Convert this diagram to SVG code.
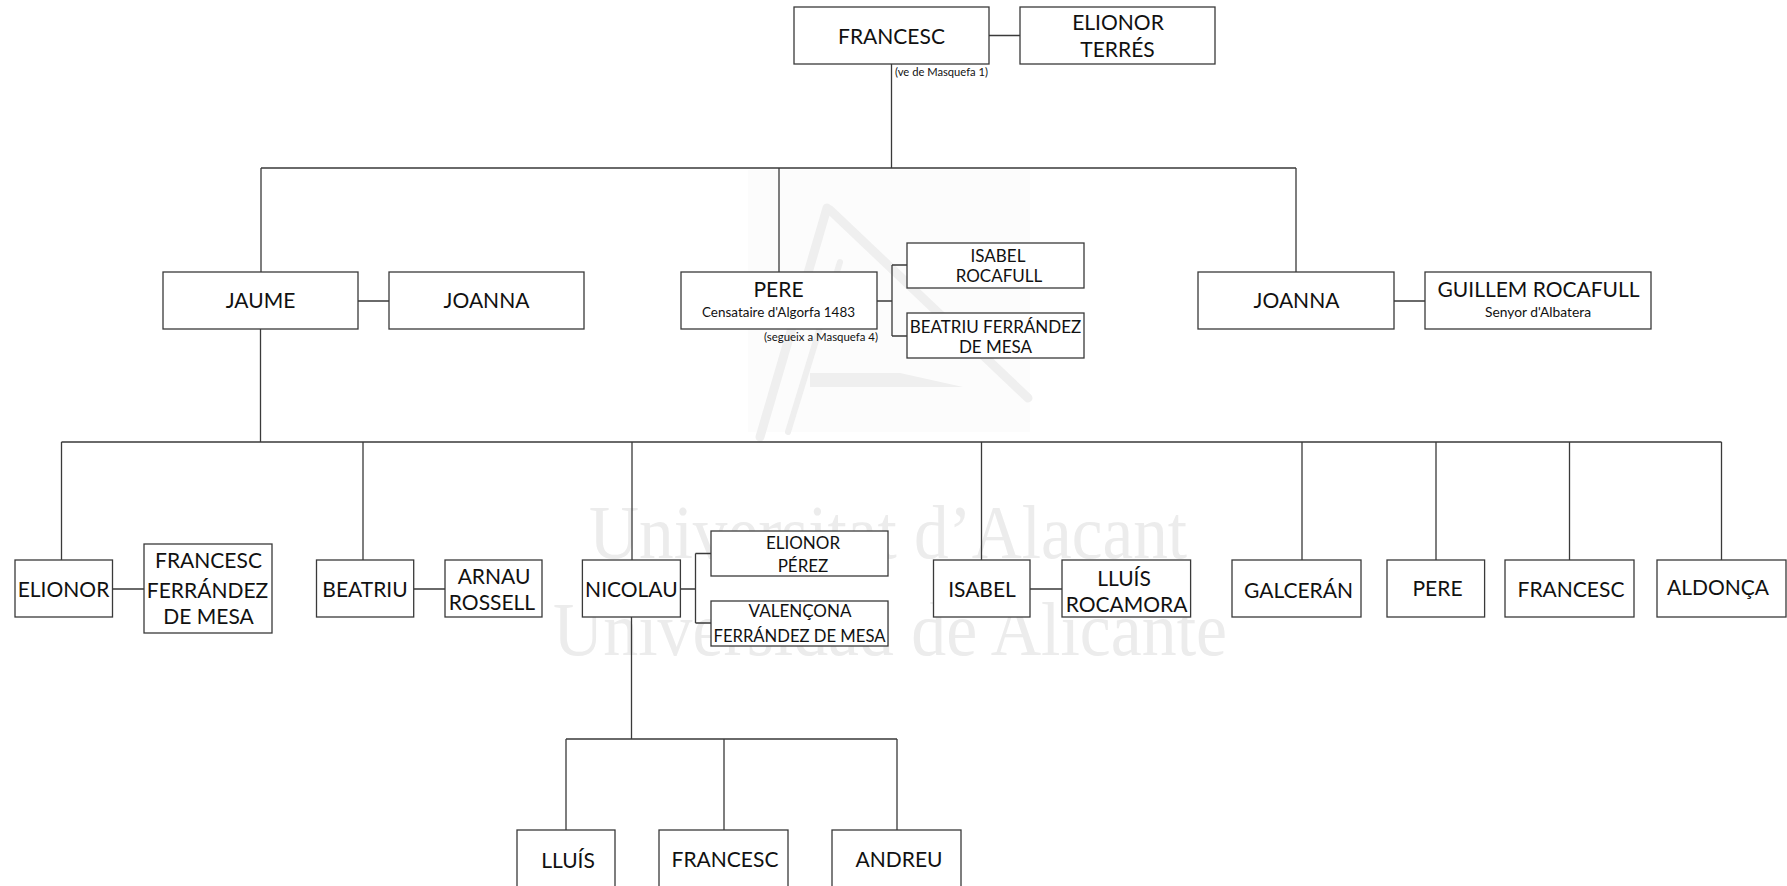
<svg xmlns="http://www.w3.org/2000/svg" width="1787" height="886" viewBox="0 0 1787 886">
<style>
.bx{fill:#fff;stroke:#3a3a3a;stroke-width:1.3}
.ln{fill:none;stroke:#3a3a3a;stroke-width:1.3}
text{font-family:Lato,"Open Sans","Liberation Sans",sans-serif;fill:#111;text-anchor:middle}
.t{font-size:21px}
.m{font-size:17px}
.s{font-size:12.5px}
.xs{font-size:10.5px;text-anchor:start}
.wm{font-family:"Liberation Serif","DejaVu Serif",serif;font-size:76px;fill:#ececec;text-anchor:start}
.lg{fill:none;stroke:#efefef;stroke-linecap:round}
</style>
<rect width="1787" height="886" fill="#fff"/>
<g id="watermark">
<rect x="748" y="170" width="282" height="262" fill="#fcfcfc"/>
<path class="lg" stroke-width="9" d="M827,208 L760,437"/>
<path class="lg" stroke-width="6" d="M840,262 L788,432"/>
<path class="lg" stroke-width="9" d="M830,210 L1028,398"/>
<path d="M810,373 L900,373 L963,387 L810,387 Z" fill="#efefef"/>
<text class="wm" x="589" y="558" textLength="598" lengthAdjust="spacingAndGlyphs">Universitat d’Alacant</text>
<text class="wm" x="553" y="655" textLength="674" lengthAdjust="spacingAndGlyphs">Universidad de Alicante</text>
</g>
<g id="connectors">
<path class="ln" d="M891.5,64V168M261,168H1296M261,168V272M779,168V272M1296,168V272M989,35.5H1020M358,301H389M877,301H892M892,265V336M892,265H907M892,336H907M1394,301H1425M260.5,329V442M61.5,442H1721.5M61.5,442V560M363,442V560M632,442V560M981.5,442V560M1302,442V560M1436,442V560M1569.5,442V560M1721.5,442V560M112.5,589H144M413.7,589H445M680.4,589H695.5M695.5,553.5V623M695.5,553.5H711M695.5,623H711M1030,589H1062M631.5,617V739M566,739H897M566,739V830M724,739V830M897,739V830"/>
</g>
<g id="n-francesc-top"><rect class="bx" x="794" y="7" width="195" height="57"/><text class="t" x="891.5" y="43.5">FRANCESC</text></g>
<g id="n-elionor-terres"><rect class="bx" x="1020" y="7" width="195" height="57"/><text class="t" x="1118" y="29.5">ELIONOR</text><text class="t" x="1117.5" y="57">TERRÉS</text></g>
<g id="note-ve"><text class="xs" x="895" y="75.5" textLength="93" lengthAdjust="spacingAndGlyphs">(ve de  Masquefa 1)</text></g>
<g id="n-jaume"><rect class="bx" x="163" y="272" width="195" height="57"/><text class="t" x="260.5" y="308">JAUME</text></g>
<g id="n-joanna1"><rect class="bx" x="389" y="272" width="195" height="57"/><text class="t" x="486.5" y="308">JOANNA</text></g>
<g id="n-pere"><rect class="bx" x="681" y="272" width="196" height="57"/><text class="t" x="778.5" y="296.5">PERE</text><text class="s" x="778.5" y="316.5" textLength="153" lengthAdjust="spacingAndGlyphs">Censataire d'Algorfa 1483</text></g>
<g id="note-segueix"><text class="xs" x="764" y="340.5" textLength="114" lengthAdjust="spacingAndGlyphs">(segueix a  Masquefa 4)</text></g>
<g id="n-isabel-rocafull"><rect class="bx" x="907" y="243" width="177" height="45"/><text class="m" x="998" y="261.5">ISABEL</text><text class="m" x="999" y="282">ROCAFULL</text></g>
<g id="n-beatriu-ferrandez"><rect class="bx" x="907" y="313" width="177" height="45"/><text class="m" x="995.5" y="332.5">BEATRIU FERRÁNDEZ</text><text class="m" x="995.5" y="353">DE MESA</text></g>
<g id="n-joanna2"><rect class="bx" x="1198" y="272" width="196" height="57"/><text class="t" x="1296.5" y="308">JOANNA</text></g>
<g id="n-guillem"><rect class="bx" x="1425" y="272" width="226" height="57"/><text class="t" x="1538.5" y="296.5" textLength="202" lengthAdjust="spacingAndGlyphs">GUILLEM ROCAFULL</text><text class="s" x="1538" y="316.5" textLength="106" lengthAdjust="spacingAndGlyphs">Senyor d'Albatera</text></g>
<g id="n-elionor"><rect class="bx" x="15" y="560" width="97.5" height="57"/><text class="t" x="63.5" y="596.5">ELIONOR</text></g>
<g id="n-francesc-ferrandez"><rect class="bx" x="144" y="544" width="128" height="89"/><text class="t" x="208.5" y="567.5">FRANCESC</text><text class="t" x="207.5" y="597.5">FERRÁNDEZ</text><text class="t" x="208.5" y="623.5">DE MESA</text></g>
<g id="n-beatriu"><rect class="bx" x="316.5" y="560" width="97.2" height="57"/><text class="t" x="365" y="596.5">BEATRIU</text></g>
<g id="n-arnau"><rect class="bx" x="445" y="560" width="97" height="57"/><text class="t" x="494" y="583.5">ARNAU</text><text class="t" x="492" y="610">ROSSELL</text></g>
<g id="n-nicolau"><rect class="bx" x="582.4" y="560" width="98" height="57"/><text class="t" x="631.4" y="596.5">NICOLAU</text></g>
<g id="n-elionor-perez"><rect class="bx" x="711" y="531" width="177" height="45"/><text class="m" x="803" y="548.5">ELIONOR</text><text class="m" x="803" y="571.5">PÉREZ</text></g>
<g id="n-valencona"><rect class="bx" x="711" y="601" width="177" height="45"/><text class="m" x="800" y="616.5">VALENÇONA</text><text class="m" x="799.5" y="641.5" textLength="172" lengthAdjust="spacingAndGlyphs">FERRÁNDEZ DE MESA</text></g>
<g id="n-isabel"><rect class="bx" x="933.5" y="560" width="96.5" height="57"/><text class="t" x="982" y="596.5">ISABEL</text></g>
<g id="n-lluis-rocamora"><rect class="bx" x="1062" y="560" width="128.6" height="57"/><text class="t" x="1124" y="586">LLUÍS</text><text class="t" x="1126.5" y="611.5">ROCAMORA</text></g>
<g id="n-galceran"><rect class="bx" x="1232" y="560" width="129" height="57"/><text class="t" x="1298.5" y="598">GALCERÁN</text></g>
<g id="n-pere2"><rect class="bx" x="1387" y="560" width="97.6" height="57"/><text class="t" x="1437.5" y="596">PERE</text></g>
<g id="n-francesc2"><rect class="bx" x="1505" y="560" width="129" height="57"/><text class="t" x="1571" y="596.5">FRANCESC</text></g>
<g id="n-aldonca"><rect class="bx" x="1657" y="560" width="129" height="57"/><text class="t" x="1718" y="594.5">ALDONÇA</text></g>
<g id="n-lluis"><rect class="bx" x="517" y="830" width="98" height="60"/><text class="t" x="568" y="868">LLUÍS</text></g>
<g id="n-francesc3"><rect class="bx" x="659" y="830" width="129" height="60"/><text class="t" x="725" y="867">FRANCESC</text></g>
<g id="n-andreu"><rect class="bx" x="832" y="830" width="129" height="60"/><text class="t" x="899" y="867">ANDREU</text></g>
</svg>
